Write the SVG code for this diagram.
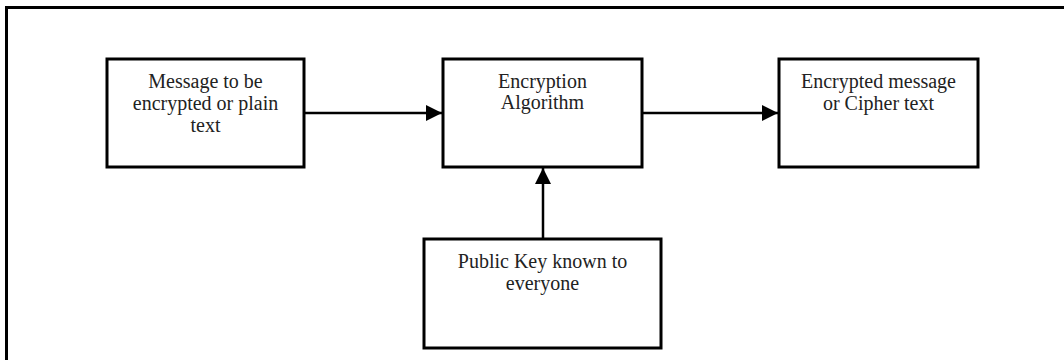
<svg xmlns="http://www.w3.org/2000/svg" width="1064" height="360" viewBox="0 0 1064 360">
  <style>
    .frame { fill: none; stroke: #000; stroke-width: 3; }
    .box { fill: #fff; stroke: #000; stroke-width: 3; }
    .label { font-family: "Liberation Serif", "Times New Roman", serif; font-size: 20px; fill: #222; text-anchor: middle; }
    .wire { fill: none; stroke: #000; stroke-width: 2.5; }
  </style>
  <defs>
    <marker id="head" viewBox="0 0 16 16" refX="16" refY="8" markerUnits="userSpaceOnUse" markerWidth="16" markerHeight="17" orient="auto">
      <path d="M0 0 L16 8 L0 16 Z" fill="#000"/>
    </marker>
  </defs>

  <rect width="1064" height="360" fill="#fff"/>
  <!-- page frame, open at right and bottom -->
  <path class="frame" d="M6.5 360 V7.5 H1064"/>

  <g id="connectors">
    <line class="wire" x1="304" y1="113" x2="442" y2="113" marker-end="url(#head)"/>
    <line class="wire" x1="642" y1="113" x2="778" y2="113" marker-end="url(#head)"/>
    <line class="wire" x1="543" y1="239" x2="543" y2="168" marker-end="url(#head)"/>
  </g>

  <g id="plaintext">
    <rect class="box" x="107" y="59" width="197" height="108"/>
    <text class="label" x="205.5" y="88">Message to be</text>
    <text class="label" x="205.5" y="110">encrypted or plain</text>
    <text class="label" x="205.5" y="132">text</text>
  </g>

  <g id="algorithm">
    <rect class="box" x="443" y="59" width="199" height="108"/>
    <text class="label" x="542.5" y="88">Encryption</text>
    <text class="label" x="542.5" y="109">Algorithm</text>
  </g>

  <g id="ciphertext">
    <rect class="box" x="779" y="59" width="199" height="108"/>
    <text class="label" x="878.5" y="88">Encrypted message</text>
    <text class="label" x="878.5" y="110">or Cipher text</text>
  </g>

  <g id="publickey">
    <rect class="box" x="424" y="239" width="237" height="109"/>
    <text class="label" x="542.5" y="268">Public Key known to</text>
    <text class="label" x="542.5" y="290">everyone</text>
  </g>
</svg>
